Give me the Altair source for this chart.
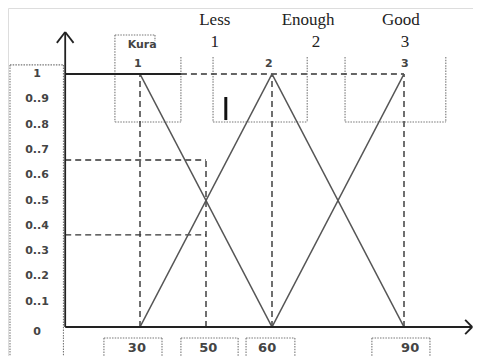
import altair as alt
import pandas as pd

# ---- data (x in input units, y in membership degree) ----
# triangular membership segments
tri_x = [30, 30, 60, 60]
tri_y = [1, 0, 1, 0]
tri_x2 = [60, 60, 90, 90]
tri_y2 = [0, 1, 0, 1]

# dashed guide lines
dash_x = [30, 45, 60, 90, 13, 13, 39.3]
dash_y = [0, 0, 0, 0, 0.66, 0.364, 1]
dash_x2 = [30, 45, 60, 90, 45, 45, 90]
dash_y2 = [1, 0.66, 1, 1, 0.66, 0.364, 1]

# solid axes / lines
sol_x = [13, 13, 13, 13, 105.5, 105.5, 13]
sol_y = [0, 1.166, 1.166, 0, 0, 0, 1]
sol_x2 = [13, 11.1, 14.9, 105.5, 103.9, 103.9, 39.3]
sol_y2 = [1.166, 1.123, 1.123, 0, 0.028, -0.028, 1]

# dotted boxes
dot_x = [0.45, 0.45, 12.6, 24.3, 24.3, 39.3, 24.3, 33.4,
         46.6, 68.0, 46.6, 76.6, 99.5, 76.6,
         21.8, 35.0, 21.8, 39.3, 52.3, 39.3, 54.1, 65.2, 54.1, 82.7, 95.9, 82.7]
dot_y = [1.036, 1.036, 1.036, 1.154, 1.154, 1.067, 0.810, 1.154,
         1.067, 1.067, 0.810, 1.067, 1.067, 0.810,
         -0.0435, -0.0435, -0.0435, -0.0435, -0.0435, -0.0435, -0.0435, -0.0435, -0.0435, -0.0435, -0.0435, -0.0435]
dot_x2 = [12.6, 0.45, 12.6, 33.4, 24.3, 39.3, 39.3, 33.4,
          46.6, 68.0, 68.0, 76.6, 99.5, 99.5,
          21.8, 35.0, 35.0, 39.3, 52.3, 52.3, 54.1, 65.2, 65.2, 82.7, 95.9, 95.9]
dot_y2 = [1.036, -0.2, -0.2, 1.154, 0.810, 0.810, 0.810, 1.13,
          0.810, 0.810, 0.810, 0.810, 0.810, 0.810,
          -0.2, -0.2, -0.0435, -0.2, -0.2, -0.0435, -0.2, -0.2, -0.0435, -0.2, -0.2, -0.0435]

# cursor mark
cur_x = [49.5]
cur_y = [0.909]
cur_y2 = [0.818]

# y tick labels
ytick_pos = [1.0, 0.9, 0.8, 0.7, 0.6, 0.5, 0.4, 0.3, 0.2, 0.1, -0.02]
ytick_lab = ["1", "0..9", "0..8", "0..7", "0..6", "0..5", "0..4", "0..3", "0..2", "0..1", "0"]
ytick_x = 6.6

# x tick labels
xtick_pos = [29.3, 45.5, 58.9, 91.4]
xtick_lab = ["30", "50", "60", "90"]
xtick_y = -0.083

# category labels (top, serif)
cat_lab = ["Less", "Enough", "Good", "1", "2", "3"]
cat_x = [47.0, 68.2, 89.3, 47.0, 70.0, 90.2]
cat_y = [1.213, 1.213, 1.213, 1.126, 1.126, 1.126]

# small bold labels
sm_lab = ["Kura", "1", "2", "3"]
sm_x = [30.5, 29.5, 59.3, 90.2]
sm_y = [1.115, 1.04, 1.04, 1.04]

W, H = 465, 348
xs = alt.Scale(domain=[0, W / 4.4], nice=False, zero=False)
ys = alt.Scale(domain=[-29 / 253, 319 / 253], nice=False, zero=False)


def seg(xa, ya, xb, yb):
    return pd.DataFrame({"x": xa, "y": ya, "x2": xb, "y2": yb})


def enc(ch):
    return ch.encode(
        x=alt.X("x:Q", scale=xs, axis=None),
        y=alt.Y("y:Q", scale=ys, axis=None),
        x2="x2:Q",
        y2="y2:Q",
    )


tri = enc(alt.Chart(seg(tri_x, tri_y, tri_x2, tri_y2)).mark_rule(color="#555", strokeWidth=1.6))
dash = enc(alt.Chart(seg(dash_x, dash_y, dash_x2, dash_y2)).mark_rule(
    color="#333", strokeWidth=1.4, strokeDash=[6, 4]))
sol = enc(alt.Chart(seg(sol_x, sol_y, sol_x2, sol_y2)).mark_rule(color="#222", strokeWidth=1.8))
dot = enc(alt.Chart(seg(dot_x, dot_y, dot_x2, dot_y2)).mark_rule(
    color="#777", strokeWidth=1.1, strokeDash=[1.5, 1.2], clip=True))
cur = alt.Chart(pd.DataFrame({"x": cur_x, "y": cur_y, "y2": cur_y2})).mark_rule(
    color="#111", strokeWidth=3).encode(
    x=alt.X("x:Q", scale=xs, axis=None), y=alt.Y("y:Q", scale=ys, axis=None), y2="y2:Q")


def txt(df, **kw):
    return alt.Chart(df).mark_text(**kw).encode(
        x=alt.X("x:Q", scale=xs, axis=None),
        y=alt.Y("y:Q", scale=ys, axis=None),
        text="t:N",
    )


yt = txt(pd.DataFrame({"x": [ytick_x] * len(ytick_pos), "y": ytick_pos, "t": ytick_lab}),
         font="DejaVu Sans", fontWeight="bold", fontSize=11, color="#444", baseline="middle")
xt = txt(pd.DataFrame({"x": xtick_pos, "y": [xtick_y] * len(xtick_pos), "t": xtick_lab}),
         font="DejaVu Sans", fontWeight="bold", fontSize=13, color="#444", baseline="middle")
ct = txt(pd.DataFrame({"x": cat_x, "y": cat_y, "t": cat_lab}),
         font="Liberation Serif", fontSize=17, color="#222", baseline="middle")
st = txt(pd.DataFrame({"x": sm_x, "y": sm_y, "t": sm_lab}),
         font="DejaVu Sans", fontWeight="bold", fontSize=11, color="#444", baseline="middle")

chart = alt.layer(dot, dash, tri, sol, cur, yt, xt, ct, st).properties(
    width=W, height=H, autosize=alt.AutoSizeParams(type="none"), padding=0
).configure_view(stroke=None).configure(background="white")

chart.save("out.html", embed_options={"renderer": "svg", "actions": False})
